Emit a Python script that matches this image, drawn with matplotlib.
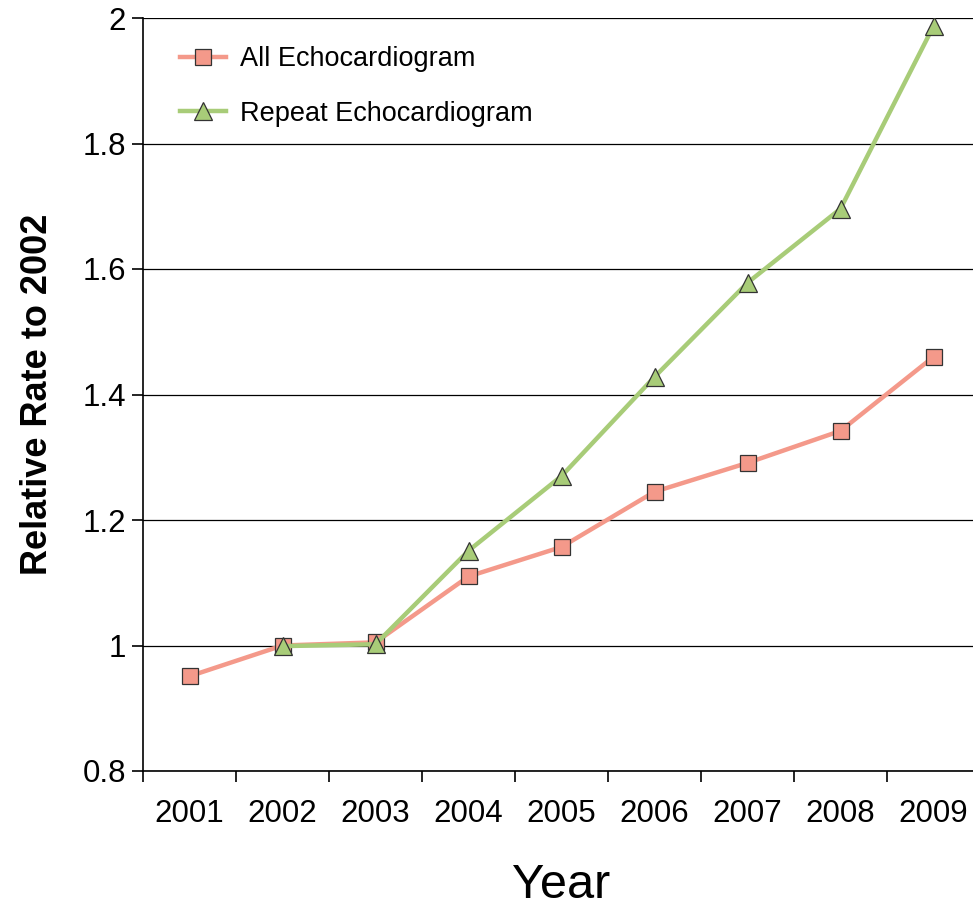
import matplotlib
matplotlib.use("Agg")
import matplotlib.pyplot as plt

plt.rcParams['font.family'] = ['Liberation Sans', 'DejaVu Sans']

# data
years = ["2001", "2002", "2003", "2004", "2005", "2006", "2007", "2008", "2009"]
all_echo = [0.951, 1.000, 1.005, 1.110, 1.157, 1.245, 1.291, 1.342, 1.460]
repeat_years = ["2002", "2003", "2004", "2005", "2006", "2007", "2008", "2009"]
repeat_echo = [0.999, 1.002, 1.151, 1.270, 1.428, 1.578, 1.696, 1.987]
y_ticks = [0.8, 1.0, 1.2, 1.4, 1.6, 1.8, 2.0]
y_tick_labels = ["0.8", "1", "1.2", "1.4", "1.6", "1.8", "2"]

x_all = list(range(len(years)))
x_rep = [years.index(y) for y in repeat_years]

fig = plt.figure(figsize=(9.73, 9.08), dpi=100)
ax = fig.add_axes([143 / 973, 1 - 771 / 908, 837 / 973, 753 / 908])

ax.plot(x_all, all_echo, color="#F4998A", lw=3.2, marker="s", ms=12,
        mfc="#F4998A", mec="#333333", mew=0.9, label="All Echocardiogram", zorder=3)
ax.plot(x_rep, repeat_echo, color="#A8CC78", lw=3.2, marker="^", ms=13,
        mfc="#A8CC78", mec="#333333", mew=0.9, label="Repeat Echocardiogram", zorder=4)

ax.set_xlim(-0.5, len(years) - 0.5)
ax.set_ylim(0.8, 2.0)
ax.set_yticks(y_ticks)
ax.set_yticklabels(y_tick_labels)
ax.set_xticks(x_all)
ax.set_xticklabels(years)
ax.set_xticks([i + 0.5 for i in range(-1, len(years))], minor=True)
ax.tick_params(axis="x", which="major", length=0, labelsize=22.5, pad=20)
ax.tick_params(axis="x", which="minor", length=8, width=1.2, direction="out")
ax.tick_params(axis="y", length=8, width=1.2, direction="out", labelsize=22.5, pad=4)

ax.yaxis.grid(True, color="black", lw=0.9)
ax.set_axisbelow(True)
for s in ["top", "right"]:
    ax.spines[s].set_visible(False)
ax.spines["left"].set_linewidth(1.2)
ax.spines["bottom"].set_linewidth(1.2)

ax.set_ylabel("Relative Rate to 2002", fontsize=26, fontweight="bold", labelpad=20)
ax.set_xlabel("Year", fontsize=35, labelpad=25)

leg = ax.legend(loc="upper left", bbox_to_anchor=(0.015, 0.995), frameon=False,
                fontsize=19.5, handlelength=1.7, labelspacing=1.05, handletextpad=0.5)

fig.savefig("out.png", dpi=100)
